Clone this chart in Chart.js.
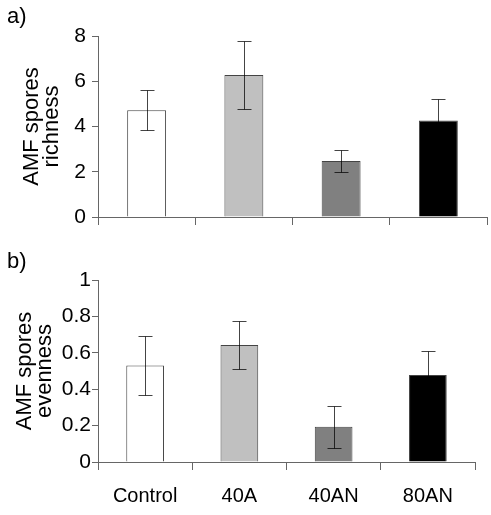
<!DOCTYPE html>
<html>
<head>
<meta charset="utf-8">
<script src="https://cdn.jsdelivr.net/npm/chart.js@4"></script>
<style>
  html, body { margin: 0; padding: 0; background: #fff; }
  #wrap { position: relative; width: 491px; height: 515px; overflow: hidden; }
  #wrap canvas { position: absolute; left: 0; }
  .panel { position: absolute; left: 7px; font-size: 22px; color: #000; font-family: "Liberation Sans", Arial, sans-serif; }
</style>
</head>
<body>
<div id="wrap">
  <canvas id="chartA" style="top:0"></canvas>
  <canvas id="chartB" style="top:240px"></canvas>
  <div class="panel" id="labA" style="top:3px">a)</div>
  <div class="panel" id="labB" style="top:248px">b)</div>
</div>
<script>
(() => {
    'use strict';

    const treatments = ['Control', '40A', '40AN', '80AN']
    const richness = [4.72, 6.28, 2.48, 4.26]
    const richnessErr = [0.88, 1.5, 0.47, 0.95]
    const evenness = [0.53, 0.643, 0.193, 0.478]
    const evennessErr = [0.16, 0.132, 0.115, 0.13]
    const barColors = ['#ffffff', '#c0c0c0', '#808080', '#000000']

    const family = '"Liberation Sans", Arial, sans-serif'

    // error bars on top of bars (multiply so they vanish on the black bar)
    const errorBars = {
        id: 'errorBars',
        afterDatasetsDraw(chart, args, opts) {
            const {ctx, scales: {y}} = chart
            const meta = chart.getDatasetMeta(0)
            const vals = chart.data.datasets[0].data
            ctx.save()
            ctx.globalCompositeOperation = 'multiply'
            ctx.strokeStyle = '#444444'
            ctx.lineWidth = 1
            meta.data.forEach((bar, i) => {
                const x = Math.round(bar.x) + 0.5
                const top = Math.round(y.getPixelForValue(vals[i] + opts.err[i])) + 0.5
                const bot = Math.round(y.getPixelForValue(vals[i] - opts.err[i])) + 0.5
                ctx.beginPath()
                ctx.moveTo(x, top); ctx.lineTo(x, bot)
                ctx.moveTo(x - 7, top); ctx.lineTo(x + 7, top)
                ctx.moveTo(x - 7, bot); ctx.lineTo(x + 7, bot)
                ctx.stroke()
            })
            ctx.restore()
        }
    }

    const makeChart = (id, height, values, errs, yMax, yStep, title, padRight, padTop, xHeight, showLabels, tickPad, titlePad) => {
        const el = document.getElementById(id)
        el.width = 491
        el.height = height
        el.style.width = '491px'
        el.style.height = height + 'px'
        return new Chart(el, {
            type: 'bar',
            data: {
                labels: treatments,
                datasets: [{
                    data: values,
                    backgroundColor: barColors,
                    borderColor: '#444444',
                    borderWidth: 1,
                    barPercentage: 0.4,
                    categoryPercentage: 1
                }]
            },
            plugins: [errorBars],
            options: {
                responsive: false,
                animation: false,
                devicePixelRatio: 1,
                layout: { padding: { top: padTop, right: padRight, left: 0, bottom: 0 } },
                plugins: {
                    legend: { display: false },
                    tooltip: { enabled: false },
                    errorBars: { err: errs }
                },
                scales: {
                    x: {
                        offset: true,
                        grid: { display: true, drawOnChartArea: false, drawTicks: true, tickLength: 8, color: '#666666', offset: true },
                        border: { display: true, color: '#666666', width: 1 },
                        ticks: { display: showLabels, color: '#000', padding: 14, maxRotation: 0,
                                 font: { family: family, size: 20 } },
                        afterFit: s => { s.height = xHeight }
                    },
                    y: {
                        min: 0,
                        max: yMax,
                        grid: { display: true, drawOnChartArea: false, drawTicks: true, tickLength: 6, color: '#666666' },
                        border: { display: true, color: '#666666', width: 1 },
                        ticks: { stepSize: yStep, color: '#000', padding: tickPad,
                                 font: { family: family, size: 21 },
                                 callback: v => String(+v.toFixed(2)) },
                        title: {
                            display: true,
                            text: title,
                            color: '#000',
                            padding: { top: titlePad, bottom: 0 },
                            font: { family: family, size: 22, lineHeight: 0.9 }
                        },
                        afterFit: s => { s.width = 98 }
                    }
                }
            }
        })
    }

    makeChart('chartA', 240, richness, richnessErr, 8, 2, ['AMF spores', 'richness'], 4, 36, 23, false, 6, 22)
    makeChart('chartB', 275, evenness, evennessErr, 1, 0.2, ['AMF spores', 'evenness'], 16, 40, 53, true, 1, 15)
})();
</script>
</body>
</html>
